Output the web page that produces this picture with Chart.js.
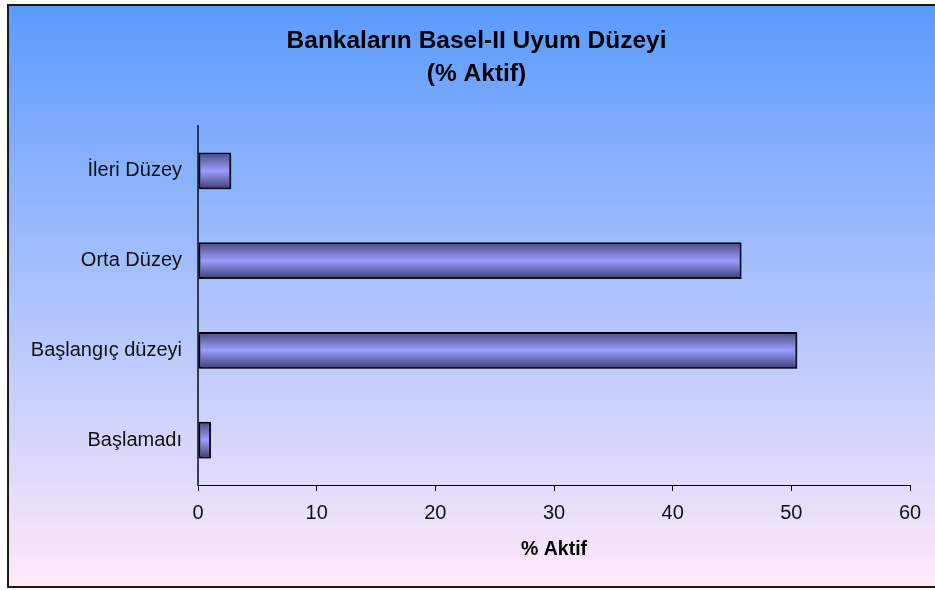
<!DOCTYPE html>
<html>
<head>
<meta charset="utf-8">
<script src="https://cdn.jsdelivr.net/npm/chart.js@4"></script>
<style>
  html, body { margin: 0; padding: 0; background: #fff; }
  #wrap { width: 935px; height: 590px; }
</style>
</head>
<body>
<div id="wrap"><canvas id="c" width="935" height="590"></canvas></div>
<script>
// Compliance levels of banks (share of assets, %)
const categories = ['İleri Düzey', 'Orta Düzey', 'Başlangıç düzeyi', 'Başlamadı'];
const activeShare = [2.8, 45.8, 50.5, 1.1];
const xTicks = [0, 10, 20, 30, 40, 50, 60];
const titleLines = ['Bankaların Basel-II Uyum Düzeyi', '(% Aktif)'];
const axisTitle = '% Aktif';

const FONT = '"Liberation Sans", Arial, Helvetica, sans-serif';
const BAR_FRACTION = 0.41;

// Cylinder-like shading across each bar's thickness
function barFill(ctx) {
  const chart = ctx.chart;
  const y = chart.scales && chart.scales.y;
  if (!y || ctx.dataIndex === undefined || !isFinite(y.height)) return '#9999ff';
  const c = y.getPixelForValue(ctx.dataIndex);
  const h = (y.height / categories.length) * BAR_FRACTION;
  const g = chart.ctx.createLinearGradient(0, c - h / 2, 0, c + h / 2);
  g.addColorStop(0, '#4a4a80');
  g.addColorStop(0.5, '#9c9cff');
  g.addColorStop(1, '#3c3c6e');
  return g;
}

// Framed panel with a vertical blue-to-pink background
const panel = {
  id: 'panel',
  beforeDraw(chart) {
    const c = chart.ctx;
    c.save();
    c.fillStyle = '#ffffff';
    c.fillRect(0, 0, chart.width, chart.height);
    const g = c.createLinearGradient(0, 6, 0, 586);
    g.addColorStop(0, '#5a9bff');
    g.addColorStop(1, '#ffe9f9');
    c.fillStyle = g;
    c.fillRect(9, 6, chart.width - 9, 580);
    c.strokeStyle = '#1a1a1a';
    c.lineWidth = 2;
    c.beginPath();
    c.moveTo(chart.width + 2, 5);
    c.lineTo(8, 5);
    c.lineTo(8, 587);
    c.lineTo(chart.width + 2, 587);
    c.stroke();
    c.restore();
  }
};

// Two-line heading, centred over the panel
const heading = {
  id: 'heading',
  afterDraw(chart) {
    const c = chart.ctx;
    c.save();
    c.fillStyle = '#000000';
    c.font = 'bold 24.5px ' + FONT;
    c.textAlign = 'center';
    c.textBaseline = 'middle';
    titleLines.forEach((line, i) => c.fillText(line, 476.5, 41 + i * 33));
    c.restore();
  }
};

// Soft drop shadow behind the bars
const barShadow = {
  id: 'barShadow',
  beforeDatasetsDraw(chart) {
    const c = chart.ctx;
    c.save();
    c.shadowColor = 'rgba(40, 40, 70, 0.45)';
    c.shadowOffsetX = 2;
    c.shadowOffsetY = 2;
    c.shadowBlur = 1;
  },
  afterDatasetsDraw(chart) {
    chart.ctx.restore();
  }
};

new Chart(document.getElementById('c'), {
  type: 'bar',
  data: {
    labels: categories,
    datasets: [{
      data: activeShare,
      backgroundColor: barFill,
      borderColor: '#000000',
      borderWidth: 2,
      borderSkipped: false,
      categoryPercentage: 1,
      barPercentage: BAR_FRACTION
    }]
  },
  options: {
    indexAxis: 'y',
    responsive: false,
    animation: false,
    devicePixelRatio: 1,
    layout: { padding: { left: 0, right: 25, top: 126, bottom: 0 } },
    plugins: {
      legend: { display: false },
      tooltip: { enabled: false },
      title: { display: false }
    },
    scales: {
      y: {
        type: 'category',
        offset: true,
        afterFit(s) { s.width = 198; },
        grid: { display: false, drawTicks: false },
        border: { display: true, color: 'rgba(25, 35, 55, 0.85)', width: 2 },
        ticks: {
          color: '#111111',
          padding: 16,
          font: { family: FONT, size: 20 }
        }
      },
      x: {
        type: 'linear',
        min: 0,
        max: 60,
        afterFit(s) { s.height = 105; },
        afterBuildTicks(s) { s.ticks = xTicks.map(v => ({ value: v })); },
        grid: {
          drawOnChartArea: false,
          drawTicks: true,
          tickLength: 6,
          color: '#000000',
          lineWidth: 1
        },
        border: { display: true, color: '#000000', width: 1 },
        ticks: {
          color: '#111111',
          padding: 10,
          font: { family: FONT, size: 20 }
        },
        title: {
          display: true,
          text: axisTitle,
          color: '#000000',
          font: { family: FONT, size: 19.5, weight: 'bold' },
          padding: { top: 0, bottom: 29 }
        }
      }
    }
  },
  plugins: [panel, heading, barShadow]
});
</script>
</body>
</html>
